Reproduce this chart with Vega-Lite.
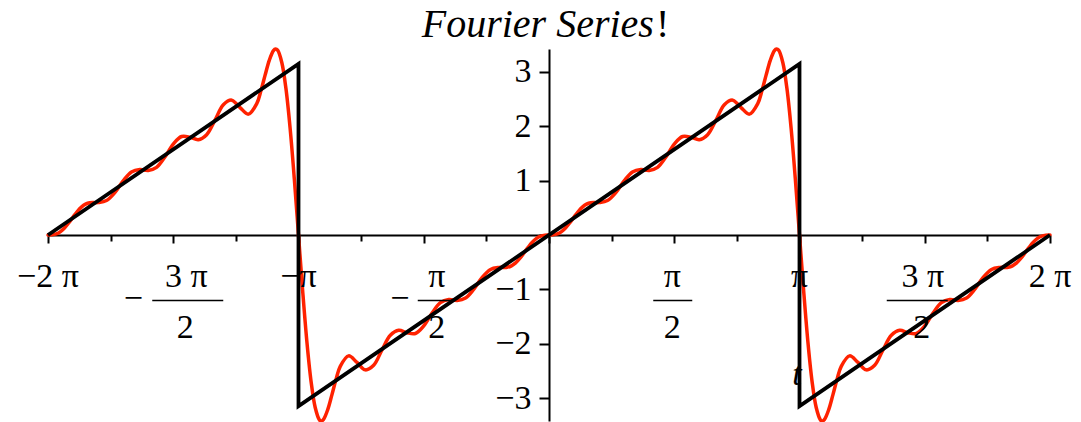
{
  "$schema": "https://vega.github.io/schema/vega-lite/v6.json",
  "width": 1002,
  "height": 372,
  "autosize": {"type": "none"},
  "padding": {"left": 48, "top": 49, "right": 31, "bottom": 1},
  "background": "white",
  "datasets": {
    "partial": [
      {"t": -360, "s": 0}, {"t": -357, "s": 0.0026}, {"t": -354, "s": 0.0198}, {"t": -351, "s": 0.0621},
      {"t": -348, "s": 0.1324}, {"t": -345, "s": 0.2257}, {"t": -342, "s": 0.3299}, {"t": -339, "s": 0.4299},
      {"t": -336, "s": 0.5116}, {"t": -333, "s": 0.566}, {"t": -330, "s": 0.5923}, {"t": -324, "s": 0.596},
      {"t": -318, "s": 0.6323}, {"t": -312, "s": 0.7784}, {"t": -306, "s": 0.9931}, {"t": -300, "s": 1.1568},
      {"t": -294, "s": 1.2002}, {"t": -288, "s": 1.1845}, {"t": -282, "s": 1.2416}, {"t": -276, "s": 1.4318},
      {"t": -270, "s": 1.6698}, {"t": -264, "s": 1.8076}, {"t": -258, "s": 1.7952}, {"t": -252, "s": 1.7492},
      {"t": -246, "s": 1.8414}, {"t": -240, "s": 2.1094}, {"t": -234, "s": 2.3911}, {"t": -228, "s": 2.4753},
      {"t": -222, "s": 2.3383}, {"t": -216, "s": 2.2185}, {"t": -210, "s": 2.4109}, {"t": -207, "s": 2.6472},
      {"t": -204, "s": 2.9339}, {"t": -201, "s": 3.206}, {"t": -198, "s": 3.3845}, {"t": -196.5, "s": 3.4138},
      {"t": -195, "s": 3.3914}, {"t": -192, "s": 3.1668}, {"t": -189, "s": 2.6828}, {"t": -186, "s": 1.9522},
      {"t": -183, "s": 1.029}, {"t": -180, "s": 0},
      {"t": -177, "s": -1.029}, {"t": -174, "s": -1.9522}, {"t": -171, "s": -2.6828}, {"t": -168, "s": -3.1668},
      {"t": -165, "s": -3.3914}, {"t": -163.5, "s": -3.4138}, {"t": -162, "s": -3.3845}, {"t": -159, "s": -3.206},
      {"t": -156, "s": -2.9339}, {"t": -153, "s": -2.6472}, {"t": -150, "s": -2.4109}, {"t": -144, "s": -2.2185},
      {"t": -138, "s": -2.3383}, {"t": -132, "s": -2.4753}, {"t": -126, "s": -2.3911}, {"t": -120, "s": -2.1094},
      {"t": -114, "s": -1.8414}, {"t": -108, "s": -1.7492}, {"t": -102, "s": -1.7952}, {"t": -96, "s": -1.8076},
      {"t": -90, "s": -1.6698}, {"t": -84, "s": -1.4318}, {"t": -78, "s": -1.2416}, {"t": -72, "s": -1.1845},
      {"t": -66, "s": -1.2002}, {"t": -60, "s": -1.1568}, {"t": -54, "s": -0.9931}, {"t": -48, "s": -0.7784},
      {"t": -42, "s": -0.6323}, {"t": -36, "s": -0.596}, {"t": -30, "s": -0.5923}, {"t": -27, "s": -0.566},
      {"t": -24, "s": -0.5116}, {"t": -21, "s": -0.4299}, {"t": -18, "s": -0.3299}, {"t": -15, "s": -0.2257},
      {"t": -12, "s": -0.1324}, {"t": -9, "s": -0.0621}, {"t": -6, "s": -0.0198}, {"t": -3, "s": -0.0026},
      {"t": 0, "s": 0},
      {"t": 3, "s": 0.0026}, {"t": 6, "s": 0.0198}, {"t": 9, "s": 0.0621}, {"t": 12, "s": 0.1324},
      {"t": 15, "s": 0.2257}, {"t": 18, "s": 0.3299}, {"t": 21, "s": 0.4299}, {"t": 24, "s": 0.5116},
      {"t": 27, "s": 0.566}, {"t": 30, "s": 0.5923}, {"t": 36, "s": 0.596}, {"t": 42, "s": 0.6323},
      {"t": 48, "s": 0.7784}, {"t": 54, "s": 0.9931}, {"t": 60, "s": 1.1568}, {"t": 66, "s": 1.2002},
      {"t": 72, "s": 1.1845}, {"t": 78, "s": 1.2416}, {"t": 84, "s": 1.4318}, {"t": 90, "s": 1.6698},
      {"t": 96, "s": 1.8076}, {"t": 102, "s": 1.7952}, {"t": 108, "s": 1.7492}, {"t": 114, "s": 1.8414},
      {"t": 120, "s": 2.1094}, {"t": 126, "s": 2.3911}, {"t": 132, "s": 2.4753}, {"t": 138, "s": 2.3383},
      {"t": 144, "s": 2.2185}, {"t": 150, "s": 2.4109}, {"t": 153, "s": 2.6472}, {"t": 156, "s": 2.9339},
      {"t": 159, "s": 3.206}, {"t": 162, "s": 3.3845}, {"t": 163.5, "s": 3.4138}, {"t": 165, "s": 3.3914},
      {"t": 168, "s": 3.1668}, {"t": 171, "s": 2.6828}, {"t": 174, "s": 1.9522}, {"t": 177, "s": 1.029},
      {"t": 180, "s": 0},
      {"t": 183, "s": -1.029}, {"t": 186, "s": -1.9522}, {"t": 189, "s": -2.6828}, {"t": 192, "s": -3.1668},
      {"t": 195, "s": -3.3914}, {"t": 196.5, "s": -3.4138}, {"t": 198, "s": -3.3845}, {"t": 201, "s": -3.206},
      {"t": 204, "s": -2.9339}, {"t": 207, "s": -2.6472}, {"t": 210, "s": -2.4109}, {"t": 216, "s": -2.2185},
      {"t": 222, "s": -2.3383}, {"t": 228, "s": -2.4753}, {"t": 234, "s": -2.3911}, {"t": 240, "s": -2.1094},
      {"t": 246, "s": -1.8414}, {"t": 252, "s": -1.7492}, {"t": 258, "s": -1.7952}, {"t": 264, "s": -1.8076},
      {"t": 270, "s": -1.6698}, {"t": 276, "s": -1.4318}, {"t": 282, "s": -1.2416}, {"t": 288, "s": -1.1845},
      {"t": 294, "s": -1.2002}, {"t": 300, "s": -1.1568}, {"t": 306, "s": -0.9931}, {"t": 312, "s": -0.7784},
      {"t": 318, "s": -0.6323}, {"t": 324, "s": -0.596}, {"t": 330, "s": -0.5923}, {"t": 333, "s": -0.566},
      {"t": 336, "s": -0.5116}, {"t": 339, "s": -0.4299}, {"t": 342, "s": -0.3299}, {"t": 345, "s": -0.2257},
      {"t": 348, "s": -0.1324}, {"t": 351, "s": -0.0621}, {"t": 354, "s": -0.0198}, {"t": 357, "s": -0.0026},
      {"t": 360, "s": 0}
    ],
    "saw": [
      {"i": 0, "t": -360, "v": 0},
      {"i": 1, "t": -180, "v": 3.1416},
      {"i": 2, "t": -180, "v": -3.1416},
      {"i": 3, "t": 180, "v": 3.1416},
      {"i": 4, "t": 180, "v": -3.1416},
      {"i": 5, "t": 360, "v": 0}
    ],
    "single": [
      {"tick": -360, "txt": "−2 π"},
      {"tick": -180, "txt": "−π"},
      {"tick": 180, "txt": "π"},
      {"tick": 360, "txt": "2 π"}
    ],
    "fracs": [
      {"tick": -270, "num": "3 π", "den": "2", "sign": "−"},
      {"tick": -90, "num": "π", "den": "2", "sign": "−"},
      {"tick": 90, "num": "π", "den": "2", "sign": ""},
      {"tick": 270, "num": "3 π", "den": "2", "sign": ""}
    ]
  },
  "layer": [
    {
      "data": {"name": "partial"},
      "mark": {"type": "line", "color": "#ff2200", "strokeWidth": 3.5, "interpolate": "catmull-rom", "strokeCap": "round", "strokeJoin": "round"},
      "encoding": {
        "x": {
          "field": "t", "type": "quantitative",
          "scale": {"domain": [-360, 360], "nice": false, "zero": false},
          "axis": {
            "orient": "bottom", "offset": -186, "title": null, "grid": false, "labels": false,
            "values": [-360, -337.5, -315, -292.5, -270, -247.5, -225, -202.5, -180, -157.5, -135, -112.5, -90, -67.5, -45, -22.5, 0, 22.5, 45, 67.5, 90, 112.5, 135, 157.5, 180, 202.5, 225, 247.5, 270, 292.5, 315, 337.5, 360],
            "domainColor": "black", "domainWidth": 2, "tickColor": "black", "tickWidth": 2,
            "tickSize": {"condition": {"test": "datum.value % 90 === 0", "value": 8}, "value": 6}
          }
        },
        "y": {
          "field": "s", "type": "quantitative",
          "scale": {"domain": [-3.414, 3.414], "nice": false, "zero": false},
          "axis": {
            "orient": "left", "offset": -501, "title": null, "grid": false, "format": "d",
            "values": [-3, -2.5, -2, -1.5, -1, -0.5, 0, 0.5, 1, 1.5, 2, 2.5, 3],
            "domainColor": "black", "domainWidth": 2, "tickColor": "black", "tickWidth": 2,
            "tickSize": {"condition": {"test": "datum.value % 1 === 0", "value": 10}, "value": 5},
            "labelExpr": "datum.value === 0 || datum.value % 1 !== 0 ? '' : datum.label",
            "labelFont": "Liberation Serif", "labelFontSize": 34, "labelColor": "black",
            "labelPadding": 8, "labelOverlap": false, "labelBound": false, "labelFlush": false
          }
        }
      }
    },
    {
      "data": {"name": "saw"},
      "mark": {"type": "line", "color": "black", "strokeWidth": 3.8, "strokeJoin": "miter"},
      "encoding": {
        "x": {"field": "t", "type": "quantitative"},
        "y": {"field": "v", "type": "quantitative"},
        "order": {"field": "i"}
      }
    },
    {
      "data": {"name": "single"},
      "mark": {"type": "text"},
      "encoding": {
        "x": {"field": "tick", "type": "quantitative"},
        "y": {"datum": -0.9545, "type": "quantitative"},
        "text": {"field": "txt"}
      }
    },
    {
      "data": {"name": "fracs"},
      "transform": [{"filter": "datum.tick === -270"}],
      "encoding": {"x": {"field": "tick", "type": "quantitative"}},
      "layer": [
        {"mark": {"type": "text", "dx": 13}, "encoding": {"y": {"datum": -0.9545, "type": "quantitative"}, "text": {"field": "num"}}},
        {"mark": {"type": "text", "dx": 12}, "encoding": {"y": {"datum": -1.8906, "type": "quantitative"}, "text": {"field": "den"}}},
        {"mark": {"type": "rule", "color": "black", "strokeWidth": 1.4, "xOffset": -21, "x2Offset": 50}, "encoding": {"x2": {"field": "tick"}, "y": {"datum": -1.2023, "type": "quantitative"}}},
        {"mark": {"type": "text", "dx": -40}, "encoding": {"y": {"datum": -1.364, "type": "quantitative"}, "text": {"field": "sign"}}}
      ]
    },
    {
      "data": {"name": "fracs"},
      "transform": [{"filter": "datum.tick === -90"}],
      "encoding": {"x": {"field": "tick", "type": "quantitative"}},
      "layer": [
        {"mark": {"type": "text", "dx": 13}, "encoding": {"y": {"datum": -0.9545, "type": "quantitative"}, "text": {"field": "num"}}},
        {"mark": {"type": "text", "dx": 13}, "encoding": {"y": {"datum": -1.8906, "type": "quantitative"}, "text": {"field": "den"}}},
        {"mark": {"type": "rule", "color": "black", "strokeWidth": 1.4, "xOffset": -6, "x2Offset": 29}, "encoding": {"x2": {"field": "tick"}, "y": {"datum": -1.2023, "type": "quantitative"}}},
        {"mark": {"type": "text", "dx": -24}, "encoding": {"y": {"datum": -1.364, "type": "quantitative"}, "text": {"field": "sign"}}}
      ]
    },
    {
      "data": {"name": "fracs"},
      "transform": [{"filter": "datum.tick === 90"}],
      "encoding": {"x": {"field": "tick", "type": "quantitative"}},
      "layer": [
        {"mark": {"type": "text", "dx": -2}, "encoding": {"y": {"datum": -0.9545, "type": "quantitative"}, "text": {"field": "num"}}},
        {"mark": {"type": "text", "dx": -2}, "encoding": {"y": {"datum": -1.8906, "type": "quantitative"}, "text": {"field": "den"}}},
        {"mark": {"type": "rule", "color": "black", "strokeWidth": 1.4, "xOffset": -21, "x2Offset": 18}, "encoding": {"x2": {"field": "tick"}, "y": {"datum": -1.2023, "type": "quantitative"}}}
      ]
    },
    {
      "data": {"name": "fracs"},
      "transform": [{"filter": "datum.tick === 270"}],
      "encoding": {"x": {"field": "tick", "type": "quantitative"}},
      "layer": [
        {"mark": {"type": "text", "dx": -2}, "encoding": {"y": {"datum": -0.9545, "type": "quantitative"}, "text": {"field": "num"}}},
        {"mark": {"type": "text", "dx": -3}, "encoding": {"y": {"datum": -1.8906, "type": "quantitative"}, "text": {"field": "den"}}},
        {"mark": {"type": "rule", "color": "black", "strokeWidth": 1.4, "xOffset": -38, "x2Offset": 23}, "encoding": {"x2": {"field": "tick"}, "y": {"datum": -1.2023, "type": "quantitative"}}}
      ]
    },
    {
      "data": {"values": [{"label": "t", "at": 178.2, "level": -2.753}]},
      "mark": {"type": "text", "fontStyle": "italic"},
      "encoding": {
        "x": {"field": "at", "type": "quantitative"},
        "y": {"field": "level", "type": "quantitative"},
        "text": {"field": "label"}
      }
    },
    {
      "data": {"values": [{"head": "Fourier Series", "bang": "!"}]},
      "encoding": {
        "x": {"datum": 75.4, "type": "quantitative"},
        "y": {"datum": 3.634, "type": "quantitative"}
      },
      "layer": [
        {"mark": {"type": "text", "fontSize": 40, "fontStyle": "italic", "align": "right"}, "encoding": {"text": {"field": "head"}}},
        {"mark": {"type": "text", "fontSize": 40, "align": "left", "dx": 2}, "encoding": {"text": {"field": "bang"}}}
      ]
    }
  ],
  "config": {
    "view": {"stroke": null},
    "font": "Liberation Serif",
    "text": {"font": "Liberation Serif", "fontSize": 34, "color": "black", "align": "center", "baseline": "alphabetic"}
  }
}
